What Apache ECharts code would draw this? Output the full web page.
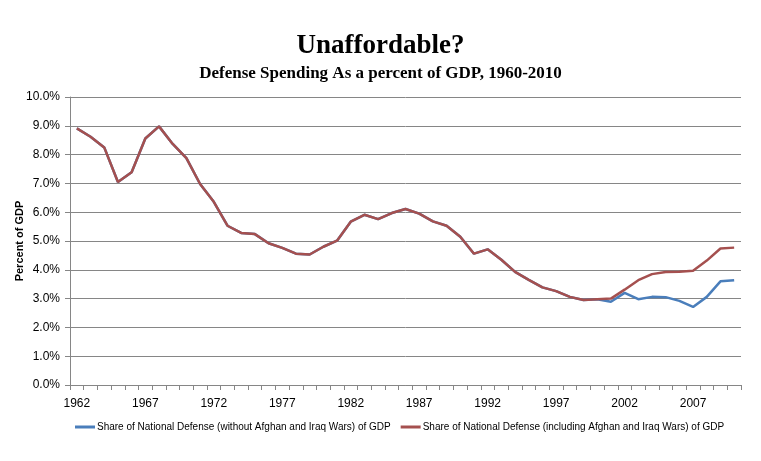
<!DOCTYPE html>
<html>
<head>
<meta charset="utf-8">
<script src="https://cdn.jsdelivr.net/npm/echarts@6/dist/echarts.min.js"></script>
<style>html,body{margin:0;padding:0;background:#fff}#c{width:761px;height:461px}</style>
</head>
<body>
<div id="c"></div>
<script>
var years = [];
for (var y = 1962; y <= 2010; y++) years.push(String(y));

var withWars = [8.91, 8.62, 8.25, 7.05, 7.39, 8.56, 8.98, 8.37, 7.88, 6.98,
  6.36, 5.53, 5.28, 5.24, 4.92, 4.76, 4.56, 4.53, 4.80, 5.01,
  5.67, 5.91, 5.76, 5.97, 6.11, 5.95, 5.68, 5.53, 5.15, 4.56,
  4.71, 4.35, 3.93, 3.65, 3.39, 3.26, 3.06, 2.95, 2.98, 3.00,
  3.31, 3.64, 3.85, 3.92, 3.93, 3.97, 4.32, 4.74, 4.77];

var withoutWars = [8.91, 8.62, 8.25, 7.05, 7.39, 8.56, 8.98, 8.37, 7.88, 6.98,
  6.36, 5.53, 5.28, 5.24, 4.92, 4.76, 4.56, 4.53, 4.80, 5.01,
  5.67, 5.91, 5.76, 5.97, 6.11, 5.95, 5.68, 5.53, 5.15, 4.56,
  4.71, 4.35, 3.93, 3.65, 3.39, 3.26, 3.06, 2.95, 2.98, 2.89,
  3.20, 2.98, 3.06, 3.05, 2.92, 2.71, 3.06, 3.60, 3.64];

var seriesNames = ['Share of National Defense (without Afghan and Iraq Wars) of GDP',
  'Share of National Defense (including Afghan and Iraq Wars) of GDP'];

var chart = echarts.init(document.getElementById('c'), null, {renderer: 'canvas'});
chart.setOption({
  animation: false,
  backgroundColor: '#fff',
  title: [{
    text: 'Unaffordable?',
    left: 'center', top: 28,
    textStyle: {fontFamily: 'Liberation Serif', fontWeight: 'bold', fontSize: 27, color: '#000'}
  }, {
    text: 'Defense Spending As a percent of GDP, 1960-2010',
    left: 'center', top: 60,
    textStyle: {fontFamily: 'Liberation Serif', fontWeight: 'bold', fontSize: 17, color: '#000'}
  }],
  legend: {
    bottom: 24, left: 70,
    itemWidth: 20, itemHeight: 3, itemGap: 10,
    icon: 'rect',
    textStyle: {fontFamily: 'Liberation Sans Narrow, Arial Narrow, sans-serif', fontSize: 10, color: '#000', padding: [0, 0, 0, -3]},
    data: seriesNames
  },
  grid: {left: 70, right: 20, top: 97, bottom: 76},
  xAxis: {
    type: 'category',
    data: years,
    boundaryGap: true,
    axisLine: {lineStyle: {color: '#868686', width: 1}},
    axisTick: {show: true, interval: 0, length: 5, lineStyle: {color: '#868686'}},
    axisLabel: {interval: 4, color: '#000', fontFamily: 'Liberation Sans, Arial, sans-serif', fontSize: 12, margin: 13}
  },
  yAxis: {
    type: 'value',
    min: 0, max: 10, interval: 1,
    name: 'Percent of GDP',
    nameLocation: 'middle',
    nameGap: 45,
    nameMoveOverlap: false,
    nameTextStyle: {fontFamily: 'Liberation Sans, Arial, sans-serif', fontWeight: 'bold', fontSize: 11, color: '#000'},
    axisLine: {show: true, lineStyle: {color: '#868686'}},
    axisTick: {show: true, length: 5, lineStyle: {color: '#868686'}},
    splitLine: {lineStyle: {color: '#868686', width: 1}},
    axisLabel: {formatter: function (v) { return v.toFixed(1) + '%'; }, color: '#000',
      fontFamily: 'Liberation Sans, Arial, sans-serif', fontSize: 12, margin: 10}
  },
  series: [{
    name: seriesNames[0], type: 'line', data: withoutWars,
    symbol: 'none', lineStyle: {color: '#4a7ebb', width: 2.5}, itemStyle: {color: '#4a7ebb'}, z: 2
  }, {
    name: seriesNames[1], type: 'line', data: withWars,
    symbol: 'none', lineStyle: {color: '#a5504f', width: 2.5}, itemStyle: {color: '#a5504f'}, z: 3
  }]
});
</script>
</body>
</html>
